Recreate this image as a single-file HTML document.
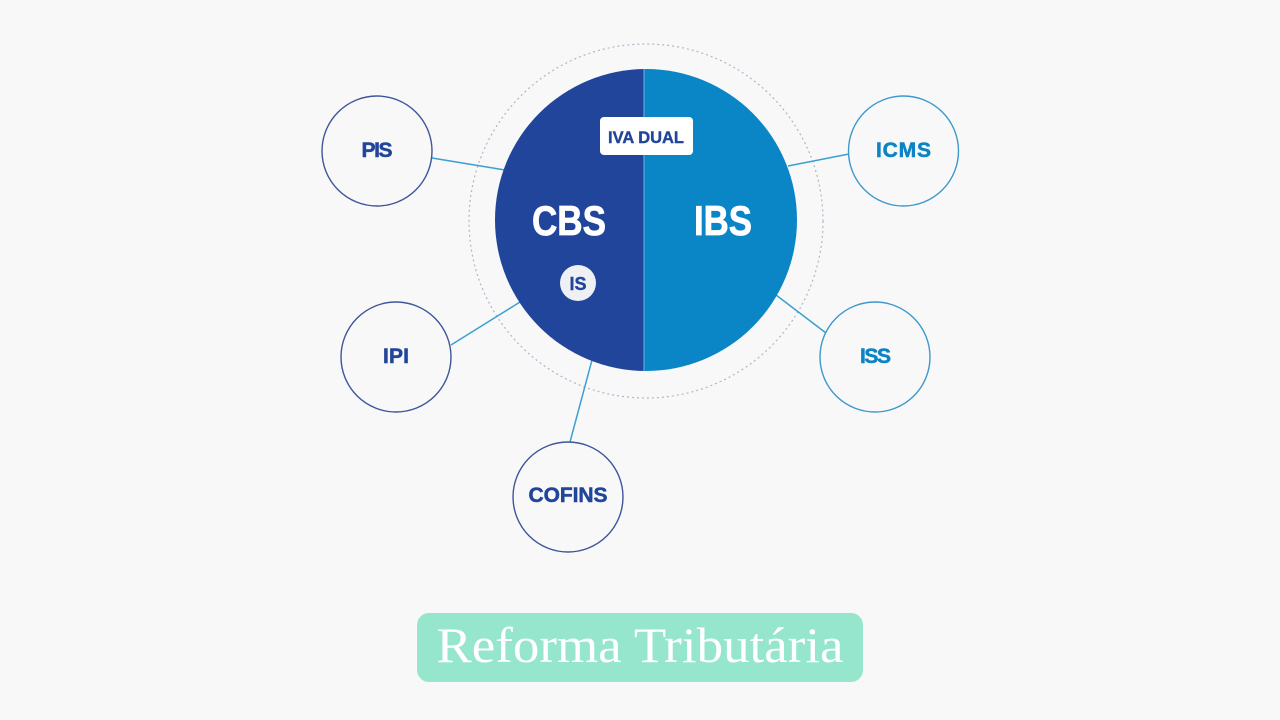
<!DOCTYPE html>
<html><head><meta charset="utf-8"><style>
html,body{margin:0;padding:0;background:#f8f8f8;}
body{width:1280px;height:720px;overflow:hidden;}
svg{display:block;}
</style></head><body>
<svg width="1280" height="720" viewBox="0 0 1280 720" xmlns="http://www.w3.org/2000/svg">
<defs>
<clipPath id="lh"><rect x="0" y="0" width="644" height="720"/></clipPath>
<clipPath id="rh"><rect x="644" y="0" width="700" height="720"/></clipPath>
</defs>
<rect width="1280" height="720" fill="#f8f8f8"/>
<!-- dashed outer ring -->
<circle cx="646" cy="221" r="177" fill="none" stroke="#b0b5cb" stroke-width="1.2" stroke-dasharray="2 3"/>
<!-- connectors -->
<g stroke="#3c9fd2" stroke-width="1.5" fill="none">
<line x1="432" y1="158" x2="505" y2="170"/>
<line x1="788" y1="166" x2="849" y2="154"/>
<line x1="451" y1="345" x2="520" y2="302"/>
<line x1="776" y1="295" x2="826" y2="333"/>
<line x1="592" y1="360" x2="570" y2="442"/>
</g>
<!-- main circle halves -->
<circle cx="646" cy="220" r="151" fill="#21459a" clip-path="url(#lh)"/>
<circle cx="646" cy="220" r="151" fill="#0a85c6" clip-path="url(#rh)"/>
<path d="M644 69 L644 371" stroke="#6fb4e0" stroke-width="1"/>
<!-- IVA DUAL -->
<rect x="600" y="117" width="93" height="38" rx="4" fill="#ffffff"/>
<text x="646" y="143" text-anchor="middle" font-family="Liberation Sans, sans-serif" font-weight="bold" font-size="17" fill="#21459a" stroke="#21459a" stroke-width="0.4" textLength="76" lengthAdjust="spacingAndGlyphs">IVA DUAL</text>
<!-- CBS / IBS -->
<text x="569" y="235" text-anchor="middle" font-family="Liberation Sans, sans-serif" font-weight="bold" font-size="42" fill="#ffffff" stroke="#ffffff" stroke-width="0.8" textLength="74" lengthAdjust="spacingAndGlyphs">CBS</text>
<text x="723" y="235" text-anchor="middle" font-family="Liberation Sans, sans-serif" font-weight="bold" font-size="42" fill="#ffffff" stroke="#ffffff" stroke-width="0.8" textLength="58" lengthAdjust="spacingAndGlyphs">IBS</text>
<!-- IS -->
<circle cx="578" cy="283" r="18" fill="#eef0f4"/>
<text x="578" y="290" text-anchor="middle" font-family="Liberation Sans, sans-serif" font-weight="bold" font-size="18" fill="#21459a" stroke="#21459a" stroke-width="0.4" textLength="17" lengthAdjust="spacingAndGlyphs">IS</text>
<!-- satellite circles -->
<g fill="#f8f8f8" stroke-width="1.4">
<circle cx="377" cy="151" r="55" stroke="#3f5599"/>
<circle cx="396" cy="357" r="55" stroke="#3f5599"/>
<circle cx="568" cy="497" r="55" stroke="#3f5599"/>
<circle cx="903.5" cy="151" r="55" stroke="#3d98cc"/>
<circle cx="875" cy="357" r="55" stroke="#3d98cc"/>
</g>
<g font-family="Liberation Sans, sans-serif" font-weight="bold" font-size="21" text-anchor="middle" lengthAdjust="spacingAndGlyphs" stroke-width="0.5">
<text x="377" y="157" fill="#21459a" stroke="#21459a" textLength="31">PIS</text>
<text x="396" y="363" fill="#21459a" stroke="#21459a" textLength="26">IPI</text>
<text x="568" y="502" fill="#21459a" stroke="#21459a" textLength="79">COFINS</text>
<text x="903.5" y="157" fill="#0a84c5" stroke="#0a84c5" textLength="55">ICMS</text>
<text x="875.5" y="363" fill="#0a84c5" stroke="#0a84c5" textLength="31">ISS</text>
</g>
<!-- title -->
<rect x="417" y="613" width="446" height="69" rx="12" fill="#95e6cc"/>
<text x="640" y="662" text-anchor="middle" font-family="Liberation Serif, serif" font-size="50" fill="#ffffff" textLength="407" lengthAdjust="spacingAndGlyphs">Reforma Tributária</text>
</svg>
</body></html>
